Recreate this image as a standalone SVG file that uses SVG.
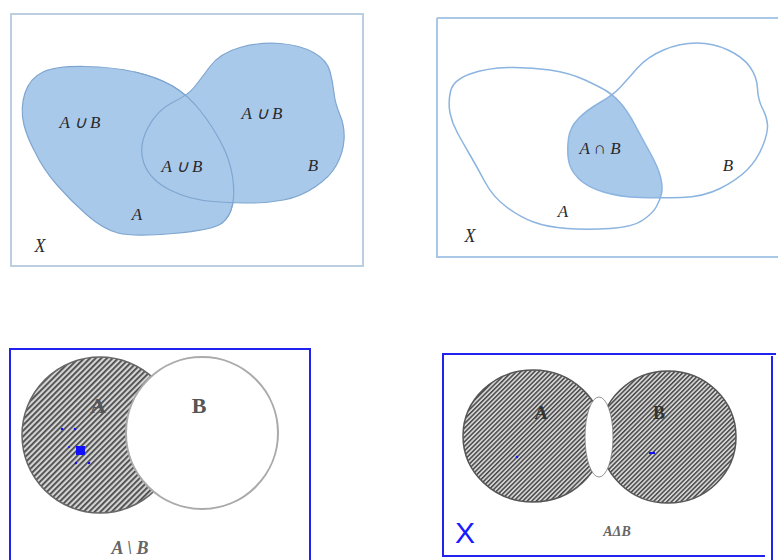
<svg xmlns="http://www.w3.org/2000/svg" width="779" height="560" viewBox="0 0 779 560">
<style>
.frame{fill:none;stroke:#bccfe2;stroke-width:2}
.blob{fill:#a9c9ea;stroke:#7fa6cf;stroke-width:1.2}
.outline{fill:none;stroke:#8bb4e0;stroke-width:1.5}
.lbl{font-family:"Liberation Serif",serif;font-style:italic;font-size:17px;fill:#2a2a2a}
.bframe{fill:none;stroke:#2222ee;stroke-width:2}
.big{font-family:"Liberation Serif",serif;font-weight:bold;fill:#555}
</style>
<defs>
<pattern id="hatch" width="4" height="4" patternUnits="userSpaceOnUse" patternTransform="rotate(-45)">
<rect width="4" height="4" fill="#d4d4d4"/>
<rect width="4" height="1.8" fill="#4a4a4a"/>
</pattern>
<pattern id="hatch2" width="3.2" height="3.2" patternUnits="userSpaceOnUse" patternTransform="rotate(-45)">
<rect width="3.2" height="3.2" fill="#d4d4d4"/>
<rect width="3.2" height="1.5" fill="#4a4a4a"/>
</pattern>
<path id="a2" d="M450,113 Q448,103 450.5,91.5 Q453,80 470,74 Q487,68 508.5,67.5 Q530,67 550,70 Q570,73 585,80 Q600,87 606.5,91 Q613,95 620,102.5 Q627,110 635,125 Q643,140 650.5,153.5 Q658,167 660.5,177 Q663,187 661.5,193.5 Q660,200 656.5,206.5 Q653,213 643,220 Q633,227 610,228.5 Q587,230 567,228.5 Q547,227 533.5,222 Q520,217 506.5,207 Q493,197 485,182 Q477,167 470,155 Q463,143 457.5,133 Q452,123 450,113 Z"/>
<path id="b2" d="M600,102.5 Q613,95 620,87.5 Q627,80 637,68.5 Q647,57 663.5,50 Q680,43 696.5,43 Q713,43 728,50 Q743,57 750,67 Q757,77 757.5,88.5 Q758,100 762.5,108.5 Q767,117 767.5,125 Q768,133 762.5,146.5 Q757,160 747,170 Q737,180 720,188.5 Q703,197 681.5,197.5 Q660,198 640,197.5 Q620,197 603.5,192 Q587,187 578.5,178.5 Q570,170 568.5,160 Q567,150 568.5,138.5 Q570,127 578.5,118.5 Q587,110 600,102.5 Z"/>
<clipPath id="clipA2"><use href="#a2"/></clipPath>
</defs>

<g id="union">
<rect class="frame" x="11" y="14" width="352" height="252"/>
<path class="blob" d="M24,125 Q20,108 25,93 Q30,78 43,72 Q56,66 85,66.5 Q113,67 135,72 Q157,77 172.5,86 Q188,95 200.5,111 Q213,127 221.5,143.5 Q230,160 232.5,176.5 Q235,193 232.5,205 Q230,217 221.5,223.5 Q213,230 173,233.5 Q133,237 118,233 Q103,229 87,215 Q71,201 57,185 Q43,169 35,152 Q27,137 24,125 Z"/>
<path class="blob" d="M172.5,102.5 Q188,95 194,87.5 Q200,80 210,66.5 Q220,53 240,47.5 Q260,42 280,43.5 Q300,45 313.5,52.5 Q327,60 330,71.5 Q333,83 334,93 Q335,103 340,115 Q345,127 344,140 Q343,153 336.5,165 Q330,177 315,187 Q300,197 283.5,200 Q267,203 252,203 Q237,203 213.5,201.5 Q190,200 170,190 Q150,180 144,163.5 Q138,147 147.5,128.5 Q157,110 172.5,102.5 Z"/>
<path fill="none" stroke="#7fa6cf" stroke-width="1.2" d="M135,72 Q157,77 172.5,86 Q188,95 200.5,111 Q213,127 221.5,143.5 Q230,160 232.5,176.5 Q235,193 232.5,205 Q230,217 221.5,223.5"/>
<text class="lbl" x="80" y="128" text-anchor="middle">A ∪ B</text>
<text class="lbl" x="182" y="172" text-anchor="middle">A ∪ B</text>
<text class="lbl" x="262" y="119" text-anchor="middle">A ∪ B</text>
<text class="lbl" x="313" y="171" text-anchor="middle">B</text>
<text class="lbl" x="137" y="220" text-anchor="middle">A</text>
<text class="lbl" x="40" y="252" text-anchor="middle" style="font-size:18px">X</text>
</g>

<g id="intersection">
<path fill="none" stroke="#a9c8e8" stroke-width="2" d="M437,18 H778 M437,18 V257 H778"/>
<use href="#b2" fill="#a9c9ea" clip-path="url(#clipA2)"/>
<use href="#a2" class="outline"/>
<use href="#b2" class="outline"/>
<text class="lbl" x="600" y="154" text-anchor="middle">A ∩ B</text>
<text class="lbl" x="728" y="171" text-anchor="middle">B</text>
<text class="lbl" x="563" y="217" text-anchor="middle">A</text>
<text class="lbl" x="470" y="242" text-anchor="middle" style="font-size:18px">X</text>
</g>

<g id="difference">
<path class="bframe" d="M10,560 V349 H310 V560"/>
<circle cx="100" cy="435" r="78" fill="url(#hatch)" stroke="#666" stroke-width="1.5"/>
<circle cx="202" cy="433" r="76" fill="#fff" stroke="#aaa" stroke-width="2"/>
<text class="big" x="98" y="413" font-size="22" text-anchor="middle">A</text>
<text class="big" x="199" y="413" font-size="22" text-anchor="middle">B</text>
<rect x="76" y="446" width="9" height="9" fill="#1010ff"/>
<circle cx="62" cy="429" r="1.3" fill="#1010ff"/>
<circle cx="75" cy="429" r="1.3" fill="#1010ff"/>
<circle cx="69" cy="447" r="1" fill="#1010ff"/>
<circle cx="76" cy="463" r="1.2" fill="#1010ff"/>
<circle cx="89" cy="463" r="1.3" fill="#1010ff"/>
<text class="lbl" x="130" y="554" text-anchor="middle" style="fill:#666;font-size:18px;font-weight:bold">A \ B</text>
</g>

<g id="symdiff">
<path class="bframe" d="M443,557 V354 H776 M772,356 V560 M443,556 H765"/>
<ellipse cx="533" cy="436" rx="70" ry="66" fill="url(#hatch2)" stroke="#555" stroke-width="1.5"/>
<ellipse cx="668" cy="437" rx="68" ry="66" fill="url(#hatch2)" stroke="#555" stroke-width="1.5"/>
<ellipse cx="599" cy="437" rx="14" ry="40" fill="#fff" stroke="#777" stroke-width="0.8"/>
<text class="big" x="541" y="419" font-size="18" text-anchor="middle" style="fill:#333">A</text>
<text class="big" x="659" y="419" font-size="18" text-anchor="middle" style="fill:#333">B</text>
<circle cx="517" cy="457" r="1.3" fill="#1010ff"/>
<rect x="649" y="452" width="6" height="2" fill="#1010ff"/>
<text x="465" y="543" font-family="Liberation Sans, sans-serif" font-size="30" fill="#1a1aff" text-anchor="middle">X</text>
<text class="lbl" x="617" y="536" text-anchor="middle" style="fill:#666;font-size:14px;font-weight:bold">AΔB</text>
</g>
</svg>
